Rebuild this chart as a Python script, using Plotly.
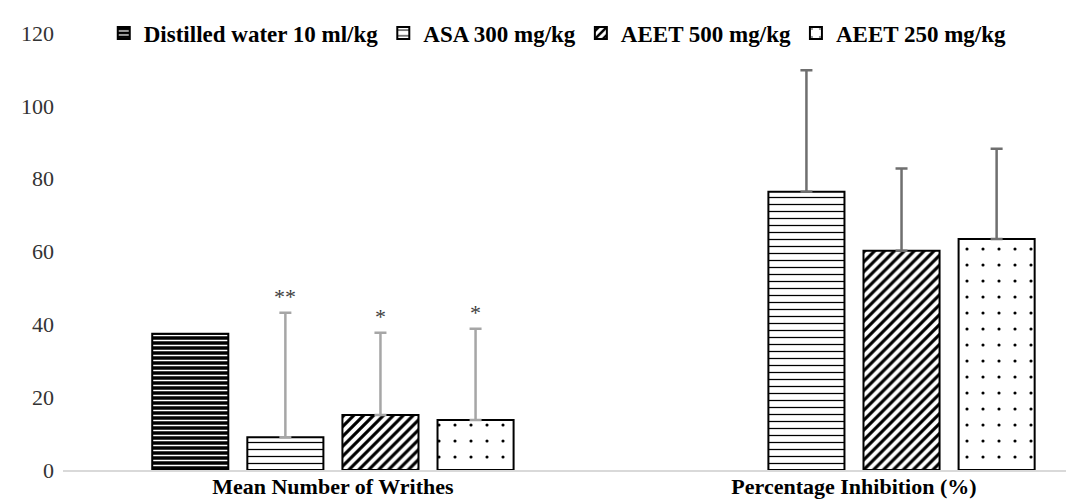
import plotly.graph_objects as go

categories = ["Mean Number of Writhes", "Percentage Inhibition (%)"]
series_names = ["Distilled water 10 ml/kg", "ASA 300 mg/kg", "AEET 500 mg/kg", "AEET 250 mg/kg"]
distilled = [37.4, None]
asa = [9.0, 76.4]
aeet500 = [15.1, 60.2]
aeet250 = [13.7, 63.4]
distilled_err = [0, 0]
asa_err = [34.2, 33.4]
aeet500_err = [22.6, 22.6]
aeet250_err = [25.1, 24.8]
stars_writhes = ["", "**", "*", "*"]

values = [distilled, asa, aeet500, aeet250]
errors = [distilled_err, asa_err, aeet500_err, aeet250_err]

FONT = "Liberation Serif, Times New Roman, serif"
patterns = [
    dict(shape="-", fgcolor="white", bgcolor="black", size=5, solidity=0.3, fillmode="replace"),
    dict(shape="-", fgcolor="black", bgcolor="white", size=7, solidity=0.18, fillmode="replace"),
    dict(shape="/", fgcolor="black", bgcolor="white", size=7, solidity=0.45, fillmode="replace"),
    dict(shape=".", fgcolor="black", bgcolor="white", size=16, solidity=0.03, fillmode="replace"),
]
err_colors = ["#a6a6a6", "#6f6f6f"]

bargap = 0.27
fig = go.Figure()
for i, name in enumerate(series_names):
    for c, cat in enumerate(categories):
        v = values[i][c]
        e = errors[i][c]
        fig.add_trace(go.Bar(
            x=[cat], y=[v], name=name, offsetgroup=str(i), legendgroup=name,
            showlegend=(c == 0),
            marker=dict(color="white", pattern=patterns[i], line=dict(color="black", width=2)),
            error_y=dict(type="data", symmetric=False, array=[e], arrayminus=[0],
                         visible=bool(e), color=err_colors[c], thickness=2.5, width=6),
        ))

n = len(series_names)
slot = (1 - bargap) / n
for i, s in enumerate(stars_writhes):
    if not s:
        continue
    top = values[i][0] + errors[i][0]
    fig.add_annotation(x=(i - (n - 1) / 2) * slot, y=top, xref="x", yref="y",
                       text=s, showarrow=False, yanchor="bottom", yshift=2,
                       font=dict(family=FONT, size=22, color="#404040"))

fig.update_layout(
    width=1074, height=500,
    barmode="group", bargap=bargap, bargroupgap=0.2,
    plot_bgcolor="white", paper_bgcolor="white",
    margin=dict(l=55, r=0, t=25, b=38),
    font=dict(family=FONT, size=22, color="#333333"),
    showlegend=True,
    legend=dict(orientation="h", x=0.04, xanchor="left", y=1.0, yanchor="middle",
                font=dict(family=FONT, size=23, color="black", weight="bold"),
                itemwidth=30, bgcolor="rgba(0,0,0,0)", tracegroupgap=0),
    xaxis=dict(type="category", range=[-0.518, 1.4376], showline=True, linecolor="#d9d9d9",
               linewidth=1.5, ticks="", showgrid=False, automargin=False,
               ticklabelstandoff=-4,
               tickfont=dict(family=FONT, size=22, color="black", weight="bold")),
    yaxis=dict(range=[0, 120], dtick=20, showgrid=False, zeroline=False, showline=False,
               ticks="", ticklabelstandoff=8, automargin=False,
               tickfont=dict(family=FONT, size=22, color="#333333")),
)

fig.write_html("out.html")
